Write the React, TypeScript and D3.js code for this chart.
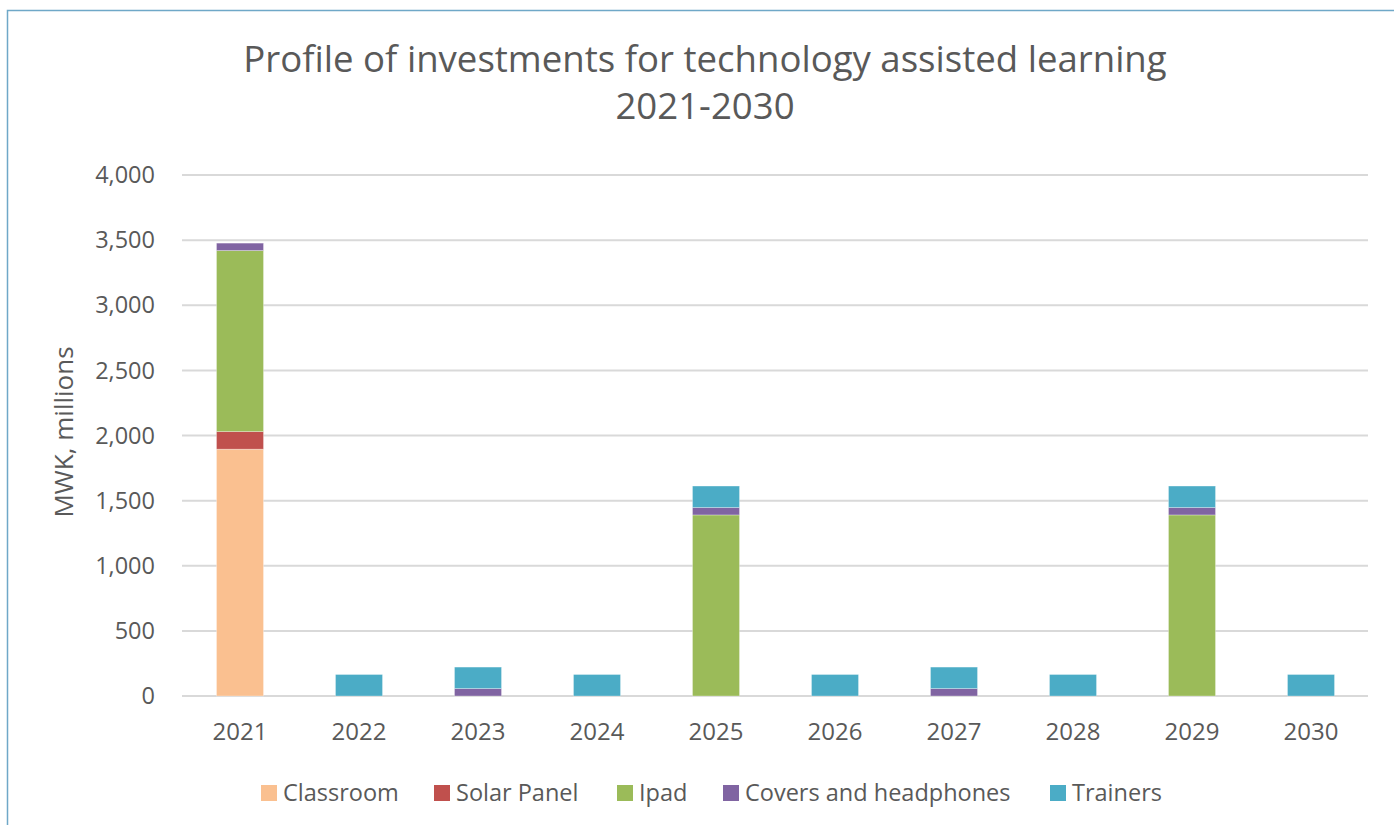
import React from "react";
import * as d3 from "d3";

const years = ["2021", "2022", "2023", "2024", "2025", "2026", "2027", "2028", "2029", "2030"];
const seriesNames = ["Classroom", "Solar Panel", "Ipad", "Covers and headphones", "Trainers"];
const classroom = [1895, 0, 0, 0, 0, 0, 0, 0, 0, 0];
const solarPanel = [135, 0, 0, 0, 0, 0, 0, 0, 0, 0];
const ipad = [1390, 0, 0, 0, 1390, 0, 0, 0, 1390, 0];
const covers = [57, 0, 57, 0, 57, 0, 57, 0, 57, 0];
const trainers = [0, 165, 165, 165, 165, 165, 165, 165, 165, 165];
const yTicks = [0, 500, 1000, 1500, 2000, 2500, 3000, 3500, 4000];
const colors = ["#FAC090", "#C0504D", "#9BBB59", "#8064A2", "#4BACC6"];

const W = 1394;
const H = 825;
const FONT = "'Open Sans', sans-serif";

export default function App() {
  const seriesValues = [classroom, solarPanel, ipad, covers, trainers];
  const rows = years.map((y, i) => {
    const r: any = { year: y };
    seriesNames.forEach((s, k) => (r[s] = seriesValues[k][i]));
    return r;
  });
  const stack = d3.stack<any>().keys(seriesNames)(rows);

  const x = d3.scaleBand().domain(years).range([180.5, 1370.5]).paddingInner(0.605).paddingOuter(0.3025);
  const y = d3.scaleLinear().domain([0, 4000]).range([696, 175]);
  const fmt = d3.format(",");

  const legendX = [261, 434, 617, 723, 1050];

  return (
    <svg width={W} height={H} style={{ position: "absolute", left: 0, top: 0, background: "#fff" }} fontFamily={FONT}>
      <rect x={7.5} y={10.5} width={W} height={H} fill="#fff" stroke="#6FA8C8" strokeWidth={1.5} />
      <text x={705} y={72} textAnchor="middle" fontSize={36.6} fill="#595959">
        Profile of investments for technology assisted learning
      </text>
      <text x={705} y={119} textAnchor="middle" fontSize={36.6} fill="#595959">
        2021-2030
      </text>
      {yTicks.map((t) => (
        <g key={t}>
          <line x1={182} x2={1368} y1={y(t)} y2={y(t)} stroke="#D9D9D9" strokeWidth={2} />
          <text x={155} y={y(t)} dy="0.35em" textAnchor="end" fontSize={23.5} fill="#595959">
            {fmt(t)}
          </text>
        </g>
      ))}
      <text transform={`translate(73,432) rotate(-90)`} textAnchor="middle" fontSize={26} fill="#595959">
        MWK, millions
      </text>
      {stack.map((s, k) =>
        s.map((d, i) =>
          d[1] - d[0] > 0 ? (
            <rect
              key={`${k}-${i}`}
              x={x(years[i])}
              width={x.bandwidth()}
              y={y(d[1])}
              height={y(d[0]) - y(d[1])}
              fill={colors[k]}
              stroke="#ffffff"
              strokeOpacity={0.4}
              strokeWidth={0.75}
            />
          ) : null
        )
      )}
      {years.map((yr) => (
        <text key={yr} x={(x(yr) as number) + x.bandwidth() / 2} y={740} textAnchor="middle" fontSize={24} fill="#595959">
          {yr}
        </text>
      ))}
      {seriesNames.map((s, k) => (
        <g key={s}>
          <rect x={legendX[k]} y={785} width={16} height={16} fill={colors[k]} />
          <text x={legendX[k] + 22} y={801} fontSize={23.5} fill="#595959">
            {s}
          </text>
        </g>
      ))}
    </svg>
  );
}
